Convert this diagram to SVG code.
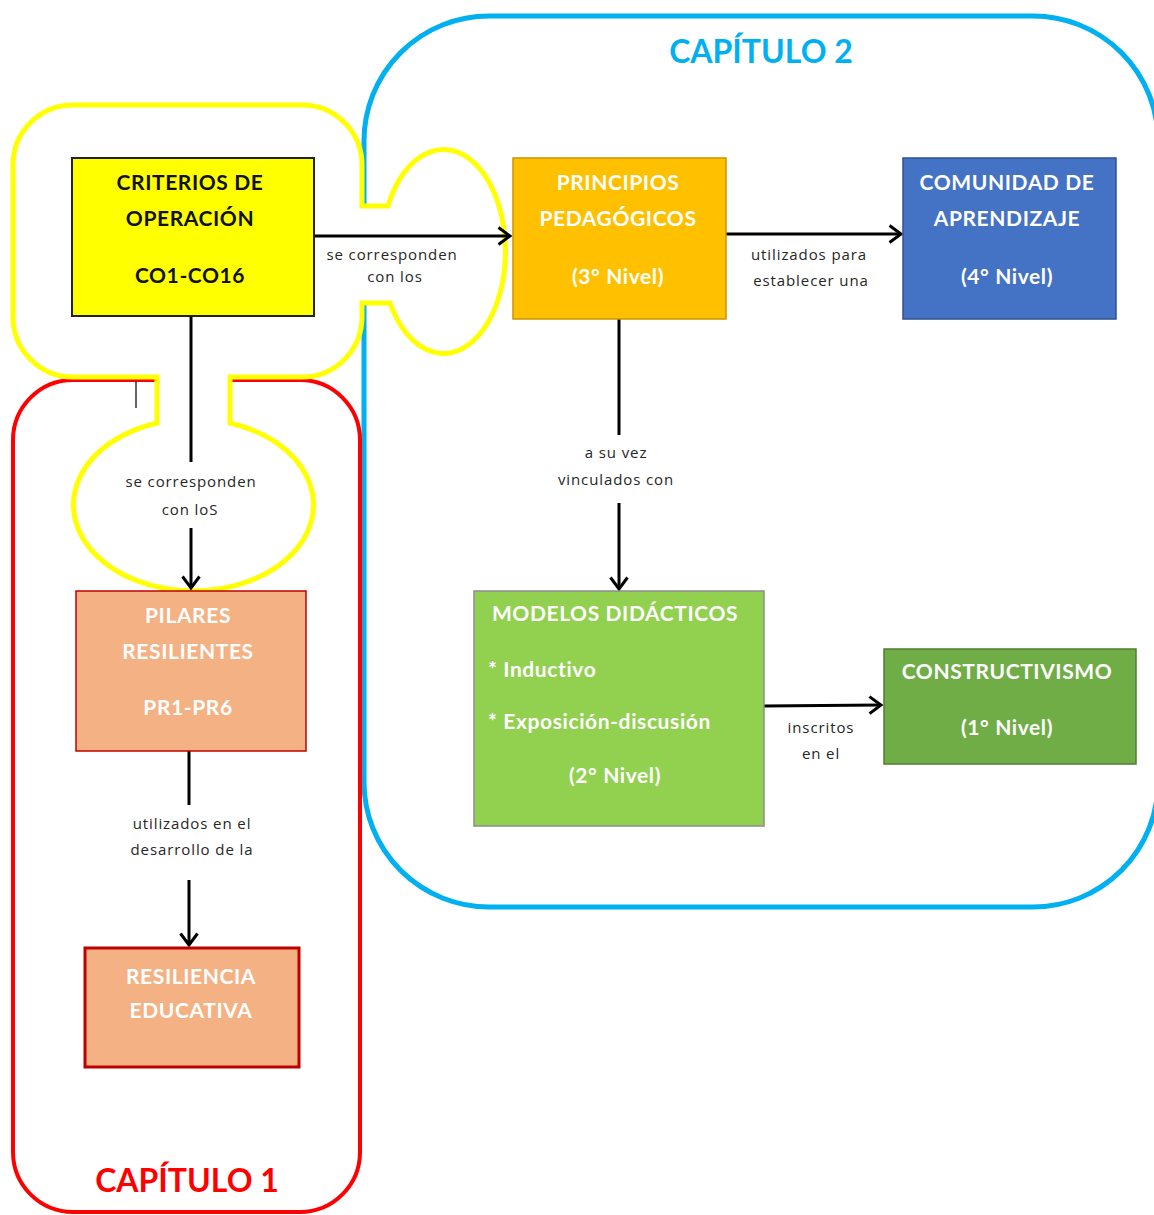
<svg xmlns="http://www.w3.org/2000/svg" width="1154" height="1215" viewBox="0 0 1154 1215">
  <defs>
    <marker id="arrow" markerUnits="userSpaceOnUse" markerWidth="16" markerHeight="22" refX="13" refY="10" orient="auto">
      <path d="M1.5,1.5 L13,10 L1.5,18.5" fill="none" stroke="#000" stroke-width="3" stroke-linejoin="miter"/>
    </marker>
    <style>
      .head { font-family: Lato, "Open Sans", "Liberation Sans", sans-serif; font-weight: 700; font-size: 21px; letter-spacing: 0.6px; fill: #fff; text-anchor: middle; }
      .head.dark { fill: #111; }
      .head.left { text-anchor: start; }
      .lbl { font-family: "Open Sans", Lato, "Liberation Sans", sans-serif; font-size: 15px; letter-spacing: 0.9px; fill: #262626; text-anchor: middle; }
      .chap { font-family: Lato, "Open Sans", "Liberation Sans", sans-serif; font-weight: 700; font-size: 32px; text-anchor: middle; }
      .link { fill: none; stroke: #000; stroke-width: 3; }
    </style>
  </defs>
  <rect width="1154" height="1215" fill="#fff"/>

  <!-- chapter containers -->
  <g id="chapter2">
    <rect x="364" y="16" width="794" height="891" rx="125" ry="125" fill="none" stroke="#00B0F0" stroke-width="5"/>
    <text class="chap" x="761" y="63" fill="#00B0F0">CAPÍTULO 2</text>
  </g>
  <g id="chapter1">
    <rect x="13" y="380" width="347" height="832" rx="60" ry="60" fill="none" stroke="#FF0000" stroke-width="4"/>
    <text class="chap" x="187" y="1192" fill="#FF0000">CAPÍTULO 1</text>
  </g>

  <!-- yellow outline around the operating criteria and their links -->
  <g id="criteria-outline">
    <path d="M73,105 H302 A60,60 0 0 1 362,165 V206 H388 A62,102 0 1 1 390,303 H362 V317 A60,60 0 0 1 302,377 H230 V423 A120,86 0 1 1 157,423 V377 H73 A60,60 0 0 1 13,317 V165 A60,60 0 0 1 73,105 Z" fill="#fff" stroke="#FFFF00" stroke-width="5" stroke-linejoin="miter"/>
    <line x1="136" y1="381" x2="136" y2="408" stroke="#333" stroke-width="1.5"/>
  </g>

  <!-- connectors -->
  <g id="connectors">
    <line class="link" x1="314" y1="236" x2="510" y2="236" marker-end="url(#arrow)"/>
    <text class="lbl" x="392" y="260">se corresponden</text>
    <text class="lbl" x="395" y="282">con los</text>

    <line class="link" x1="726" y1="234" x2="901" y2="234" marker-end="url(#arrow)"/>
    <text class="lbl" x="809" y="260">utilizados para</text>
    <text class="lbl" x="811" y="286">establecer una</text>

    <line class="link" x1="619" y1="319" x2="619" y2="435"/>
    <line class="link" x1="619" y1="503" x2="619" y2="589" marker-end="url(#arrow)"/>
    <text class="lbl" x="616" y="458">a su vez</text>
    <text class="lbl" x="616" y="485">vinculados con</text>

    <line class="link" x1="764" y1="706" x2="881" y2="705" marker-end="url(#arrow)"/>
    <text class="lbl" x="821" y="733">inscritos</text>
    <text class="lbl" x="821" y="759">en el</text>

    <line class="link" x1="191" y1="316" x2="191" y2="462"/>
    <line class="link" x1="191" y1="528" x2="191" y2="588" marker-end="url(#arrow)"/>
    <text class="lbl" x="191" y="487">se corresponden</text>
    <text class="lbl" x="190" y="515">con loS</text>

    <line class="link" x1="189" y1="751" x2="189" y2="805"/>
    <line class="link" x1="189" y1="880" x2="189" y2="945" marker-end="url(#arrow)"/>
    <text class="lbl" x="192" y="829">utilizados en el</text>
    <text class="lbl" x="192" y="855">desarrollo de la</text>
  </g>

  <!-- nodes -->
  <g id="criterios">
    <rect x="72" y="158" width="242" height="158" fill="#FFFF00" stroke="#222" stroke-width="2"/>
    <text class="head dark" x="190" y="190">CRITERIOS DE</text>
    <text class="head dark" x="190" y="226">OPERACIÓN</text>
    <text class="head dark" x="190" y="283">CO1-CO16</text>
  </g>
  <g id="principios">
    <rect x="513" y="158" width="213" height="161" fill="#FFC000" stroke="#C99700" stroke-width="1.5"/>
    <text class="head" x="618" y="190">PRINCIPIOS</text>
    <text class="head" x="618" y="226">PEDAGÓGICOS</text>
    <text class="head" x="618" y="284">(3° Nivel)</text>
  </g>
  <g id="comunidad">
    <rect x="903" y="158" width="213" height="161" fill="#4472C4" stroke="#2F528F" stroke-width="1.5"/>
    <text class="head" x="1007" y="190">COMUNIDAD DE</text>
    <text class="head" x="1007" y="226">APRENDIZAJE</text>
    <text class="head" x="1007" y="284">(4° Nivel)</text>
  </g>
  <g id="modelos">
    <rect x="474" y="591" width="290" height="235" fill="#92D050" stroke="#8C8C8C" stroke-width="1.5"/>
    <text class="head" x="615" y="621">MODELOS DIDÁCTICOS</text>
    <text class="head left" x="488" y="677">* Inductivo</text>
    <text class="head left" x="488" y="729">* Exposición-discusión</text>
    <text class="head" x="615" y="783">(2° Nivel)</text>
  </g>
  <g id="constructivismo">
    <rect x="884" y="649" width="252" height="115" fill="#70AD47" stroke="#507E32" stroke-width="1.5"/>
    <text class="head" x="1007" y="679">CONSTRUCTIVISMO</text>
    <text class="head" x="1007" y="735">(1° Nivel)</text>
  </g>
  <g id="pilares">
    <rect x="76" y="591" width="230" height="160" fill="#F4B183" stroke="#C00000" stroke-width="1.5"/>
    <text class="head" x="188" y="623">PILARES</text>
    <text class="head" x="188" y="659">RESILIENTES</text>
    <text class="head" x="188" y="715">PR1-PR6</text>
  </g>
  <g id="resiliencia">
    <rect x="85" y="948" width="214" height="119" fill="#F4B183" stroke="#C00000" stroke-width="3"/>
    <text class="head" x="191" y="984">RESILIENCIA</text>
    <text class="head" x="191" y="1018">EDUCATIVA</text>
  </g>
</svg>
